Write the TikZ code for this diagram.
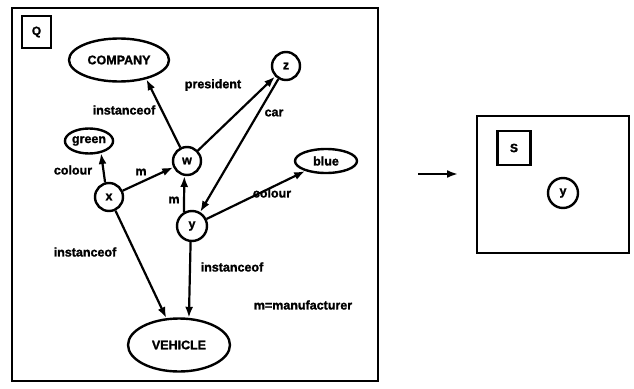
\documentclass[tikz,border=0pt]{standalone}
\usepackage{fontspec}
\setmainfont{Liberation Sans}[BoldFeatures={FakeBold=1.5}]
\usetikzlibrary{arrows.meta,shapes.geometric}
\begin{document}
\begin{tikzpicture}[x=1pt,y=-1pt,
  lab/.style={font=\bfseries\fontsize{12.5}{14}\selectfont, inner sep=1pt},
  ell/.style={draw, ellipse, line width=2.4pt, inner sep=0pt, font=\bfseries\fontsize{12.5}{14}\selectfont},
  var/.style={draw, circle, line width=2.4pt, minimum size=28pt, inner sep=0pt, font=\bfseries\fontsize{12.5}{14}\selectfont},
  edge/.style={line width=2.2pt, -{Latex[length=11pt,width=8pt]}},
  frm/.style={draw, line width=2.2pt},
  tag/.style={draw, line width=2.2pt, inner sep=0pt, font=\bfseries\fontsize{12}{14}\selectfont}]
\useasboundingbox (0,0) rectangle (634,388);
% left frame
\draw[frm] (12,8) rectangle (378,381);
\node[tag, minimum width=29pt, minimum height=32pt] (q) at (36.5,32) {Q};
% nodes
\node[ell, minimum width=100pt, minimum height=43pt] (company) at (119,60) {COMPANY};
\node[ell, minimum width=48pt, minimum height=25pt] (green) at (89,141) {green};
\node[ell, minimum width=62pt, minimum height=24pt] (blue) at (326,161) {blue};
\node[ell, minimum width=102pt, minimum height=53pt] (vehicle) at (179,345) {VEHICLE};
\node[var] (z) at (286,66) {z};
\node[var] (w) at (187,161) {w};
\node[var] (x) at (109,197) {x};
\node[var, minimum size=30pt] (y) at (192,226) {y};
% edges
\draw[edge] (w) -- (company.-35);
\draw[edge] (w) -- (z);
\draw[edge] (z) -- (y);
\draw[edge] (x.105) -- (green.-45);
\draw[edge] (x) -- (w);
\draw[edge] (y.120) -- (w.-100);
\draw[edge] (y) -- (blue);
\draw[edge] (x) -- (vehicle);
\draw[edge] (y.-95) -- (vehicle.70);
% labels
\node[lab] (l1) at (124,110) {instanceof};
\node[lab] (l2) at (213,85) {president};
\node[lab] (l3) at (274,113) {car};
\node[lab] (l4) at (73,170) {colour};
\node[lab] (l5) at (141,172) {m};
\node[lab] (l6) at (174,200) {m};
\node[lab] (l7) at (272,193) {colour};
\node[lab] (l8) at (85,252) {instanceof};
\node[lab] (l9) at (232,267) {instanceof};
\node[lab] (l10) at (303,305) {m=manufacturer};
% arrow to result
\coordinate (a1) at (418,174);
\coordinate (a2) at (458,174);
\draw[edge] (a1) -- (a2);
% right frame
\draw[frm] (477,116) rectangle (629,253);
\node[tag, minimum width=33pt, minimum height=34pt] (s) at (514,148) {S};
\node[var, minimum size=30pt] (y2) at (563,193) {y};
\end{tikzpicture}
\end{document}
